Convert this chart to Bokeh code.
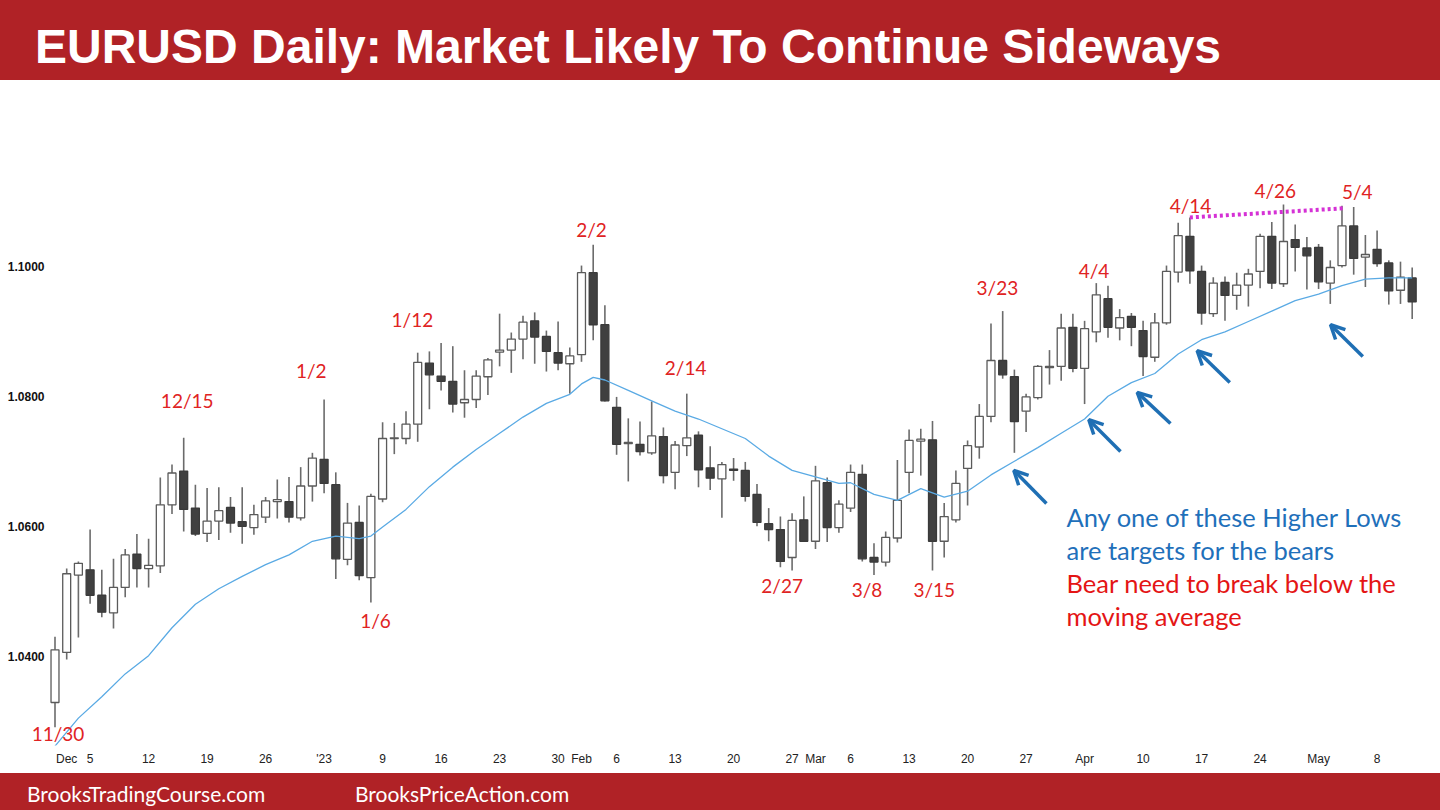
import pandas as pd
from bokeh.plotting import figure
from bokeh.models import (Range1d, FixedTicker, NumeralTickFormatter, ColumnDataSource,
                          Arrow, OpenHead, Div, LabelSet)
from bokeh.layouts import column
from bokeh.embed import file_html
from bokeh.resources import INLINE
from bokeh.core.properties import value

# ---------------- data ----------------
dates = [d.strftime("%m/%d") for d in pd.bdate_range("2022-11-30", "2023-05-11")]

opens = [1.0329, 1.0406, 1.0525, 1.0533, 1.0494, 1.0467, 1.0506, 1.0557, 1.0535, 1.0539,
         1.0633, 1.0685, 1.0628, 1.0589, 1.0608, 1.0629, 1.0607, 1.0598, 1.0614, 1.0638,
         1.0638, 1.0613, 1.0662, 1.0703, 1.0664, 1.0549, 1.0606, 1.0521, 1.0642, 1.0735,
         1.0735, 1.0757, 1.0851, 1.0831, 1.0823, 1.0790, 1.0795, 1.0830, 1.0868, 1.0871,
         1.0888, 1.0916, 1.0892, 1.0867, 1.0850, 1.0864, 1.0990, 1.0910, 1.0783, 1.0727,
         1.0726, 1.0713, 1.0738, 1.0683, 1.0724, 1.0740, 1.0690, 1.0673, 1.0688, 1.0686,
         1.0649, 1.0604, 1.0595, 1.0552, 1.0610, 1.0577, 1.0667, 1.0598, 1.0628, 1.0680,
         1.0552, 1.0545, 1.0582, 1.0683, 1.0731, 1.0733, 1.0577, 1.0610, 1.0689, 1.0722,
         1.0769, 1.0855, 1.0830, 1.0777, 1.0798, 1.0844, 1.0846, 1.0906, 1.0843, 1.0899,
         1.0950, 1.0905, 1.0923, 1.0901, 1.0860, 1.0913, 1.0991, 1.1046, 1.0992, 1.0927,
         1.0975, 1.0955, 1.0971, 1.0992, 1.1046, 1.0973, 1.1041, 1.1028, 1.1029, 1.0974,
         1.1001, 1.1062, 1.1014, 1.1026, 1.1005, 1.0963, 1.0982]
highs = [1.0430, 1.0535, 1.0546, 1.0595, 1.0533, 1.0550, 1.0565, 1.0588, 1.0581, 1.0675,
         1.0695, 1.0736, 1.0664, 1.0659, 1.0660, 1.0645, 1.0660, 1.0633, 1.0645, 1.0672,
         1.0676, 1.0691, 1.0713, 1.0795, 1.0683, 1.0636, 1.0632, 1.0650, 1.0760, 1.0759,
         1.0777, 1.0867, 1.0869, 1.0882, 1.0877, 1.0840, 1.0840, 1.0859, 1.0927, 1.0898,
         1.0924, 1.0929, 1.0901, 1.0915, 1.0875, 1.1001, 1.1033, 1.0940, 1.0799, 1.0766,
         1.0761, 1.0792, 1.0752, 1.0731, 1.0804, 1.0746, 1.0723, 1.0699, 1.0705, 1.0699,
         1.0665, 1.0628, 1.0615, 1.0620, 1.0646, 1.0693, 1.0675, 1.0640, 1.0695, 1.0695,
         1.0574, 1.0592, 1.0702, 1.0749, 1.0750, 1.0762, 1.0636, 1.0686, 1.0732, 1.0788,
         1.0912, 1.0931, 1.0841, 1.0804, 1.0848, 1.0871, 1.0927, 1.0927, 1.0916, 1.0974,
         1.0970, 1.0934, 1.0928, 1.0916, 1.0928, 1.1001, 1.1067, 1.1075, 1.1001, 1.0983,
         1.0984, 1.0990, 1.0996, 1.1050, 1.1068, 1.1095, 1.1064, 1.1045, 1.1034, 1.1009,
         1.1093, 1.1091, 1.1048, 1.1055, 1.1009, 1.1007, 1.0998]
lows = [1.0291, 1.0395, 1.0429, 1.0481, 1.0460, 1.0443, 1.0491, 1.0506, 1.0506, 1.0528,
        1.0619, 1.0592, 1.0585, 1.0576, 1.0579, 1.0590, 1.0573, 1.0587, 1.0605, 1.0612,
        1.0606, 1.0609, 1.0638, 1.0651, 1.0519, 1.0540, 1.0517, 1.0483, 1.0637, 1.0711,
        1.0726, 1.0730, 1.0780, 1.0809, 1.0775, 1.0767, 1.0782, 1.0802, 1.0846, 1.0836,
        1.0857, 1.0850, 1.0838, 1.0840, 1.0804, 1.0853, 1.0886, 1.0792, 1.0710, 1.0669,
        1.0709, 1.0710, 1.0666, 1.0657, 1.0708, 1.0660, 1.0656, 1.0613, 1.0670, 1.0638,
        1.0600, 1.0577, 1.0537, 1.0532, 1.0576, 1.0565, 1.0576, 1.0590, 1.0622, 1.0546,
        1.0525, 1.0538, 1.0575, 1.0651, 1.0678, 1.0532, 1.0552, 1.0606, 1.0632, 1.0704,
        1.0760, 1.0827, 1.0713, 1.0745, 1.0795, 1.0818, 1.0824, 1.0837, 1.0788, 1.0883,
        1.0890, 1.0886, 1.0877, 1.0831, 1.0853, 1.0910, 1.0975, 1.0973, 1.0910, 1.0922,
        1.0916, 1.0933, 1.0938, 1.0966, 1.0965, 1.0968, 1.0992, 1.0964, 1.0965, 1.0942,
        1.0998, 1.0987, 1.0968, 1.0999, 1.0941, 1.0942, 1.0919]
closes = [1.0410, 1.0527, 1.0543, 1.0494, 1.0468, 1.0506, 1.0556, 1.0535, 1.0540, 1.0633,
          1.0682, 1.0626, 1.0588, 1.0608, 1.0624, 1.0605, 1.0600, 1.0618, 1.0639, 1.0641,
          1.0614, 1.0662, 1.0705, 1.0666, 1.0550, 1.0605, 1.0524, 1.0646, 1.0735, 1.0736,
          1.0757, 1.0852, 1.0833, 1.0823, 1.0788, 1.0795, 1.0831, 1.0856, 1.0871, 1.0888,
          1.0914, 1.0891, 1.0869, 1.0851, 1.0862, 1.0990, 1.0910, 1.0793, 1.0726, 1.0729,
          1.0715, 1.0739, 1.0678, 1.0725, 1.0736, 1.0687, 1.0674, 1.0695, 1.0686, 1.0646,
          1.0606, 1.0595, 1.0546, 1.0609, 1.0577, 1.0670, 1.0598, 1.0634, 1.0683, 1.0550,
          1.0545, 1.0583, 1.0640, 1.0732, 1.0734, 1.0577, 1.0615, 1.0666, 1.0724, 1.0769,
          1.0855, 1.0833, 1.0761, 1.0799, 1.0846, 1.0846, 1.0905, 1.0843, 1.0904, 1.0956,
          1.0906, 1.0921, 1.0906, 1.0861, 1.0913, 1.0992, 1.1047, 1.0993, 1.0928, 1.0974,
          1.0955, 1.0971, 1.0988, 1.1046, 1.0974, 1.1038, 1.1029, 1.1016, 1.0976, 1.0998,
          1.1062, 1.1012, 1.1018, 1.1004, 1.0962, 1.0983, 1.0945]

# moving average (bar index, value)
ma_idx = [0, 2, 4, 6, 8, 10, 12, 14, 16, 18, 20, 22, 24, 26, 27, 28, 30, 32, 34, 36, 38, 40,
          42, 44, 45, 46, 47, 49, 51, 53, 55, 57, 59, 61, 63, 65, 67, 68, 70, 72, 74, 76, 78,
          80, 82, 84, 86, 88, 90, 92, 94, 96, 98, 100, 102, 104, 106, 108, 110, 112, 114, 116]
ma_val = [1.0262, 1.0305, 1.0338, 1.0373, 1.0401, 1.0444, 1.0480, 1.0504, 1.0523, 1.0541,
          1.0556, 1.0577, 1.0585, 1.0581, 1.0585, 1.0599, 1.0626, 1.0661, 1.0691, 1.0718,
          1.0743, 1.0768, 1.0789, 1.0803, 1.0819, 1.0829, 1.0825, 1.0809, 1.0793, 1.0777,
          1.0765, 1.0750, 1.0735, 1.0708, 1.0686, 1.0676, 1.0666, 1.0667, 1.0649, 1.0640,
          1.0658, 1.0645, 1.0654, 1.0679, 1.0700, 1.0721, 1.0743, 1.0765, 1.0800, 1.0821,
          1.0835, 1.0865, 1.0887, 1.0899, 1.0915, 1.0931, 1.0947, 1.0957, 1.0970, 1.0980,
          1.0982, 1.0982]

tick_idx = [1, 3, 8, 13, 18, 23, 28, 33, 38, 43, 45, 48, 53, 58, 63, 65, 68, 73, 78, 83,
            88, 93, 98, 103, 108, 113]
tick_labels = ["Dec", "5", "12", "19", "26", "'23", "9", "16", "23", "30", "Feb", "6", "13",
               "20", "27", "Mar", "6", "13", "20", "27", "Apr", "10", "17", "24", "May", "8"]
y_ticks = [1.04, 1.06, 1.08, 1.10]

swing_labels = ["11/30", "12/15", "1/2", "1/12", "1/6", "2/2", "2/14", "2/27", "3/8", "3/15",
                "3/23", "4/4", "4/14", "4/26", "5/4"]
swing_x = [0.26, 11.3, 21.9, 30.55, 27.4, 45.85, 53.9, 62.15, 69.4, 75.15, 80.55, 88.8,
           97.05, 104.3, 111.3]
swing_y = [1.0281, 1.0793, 1.0840, 1.0918, 1.0455, 1.1056, 1.0844, 1.0509, 1.0503, 1.0503,
           1.0968, 1.0994, 1.1093, 1.1116, 1.1115]

# higher-low arrows: tail (x0,y0) -> head (x1,y1)
arr_x0 = [84.74, 91.07, 95.34, 100.41, 111.78]
arr_y0 = [1.0635, 1.0715, 1.0758, 1.0821, 1.0861]
arr_x1 = [81.95, 88.36, 92.50, 97.62, 109.02]
arr_y1 = [1.0686, 1.0764, 1.0806, 1.0870, 1.0910]

# resistance line between the 4/14 and 5/3-5/4 highs
res_x = [97, 110.1]
res_y = [1.1075, 1.1089]

RED_BAND = "#B02226"
LABEL_RED = "#DF2323"
BLUE_TXT = "#1F70BA"

# ---------------- figure ----------------
# frame starts 30px from the left; y labels are pulled back over it with a negative standoff
p = figure(width=1440, height=693, output_backend="svg", toolbar_location=None,
           x_range=Range1d(-2.094, 118.42), y_range=Range1d(1.02629, 1.12856),
           min_border_left=30, min_border_right=0, min_border_top=0, min_border_bottom=28)
p.outline_line_color = None
p.xgrid.visible = False
p.ygrid.visible = False
p.background_fill_color = "white"
p.border_fill_color = "white"

for ax in (p.xaxis[0], p.yaxis[0]):
    ax.axis_line_color = None
    ax.major_tick_line_color = None
    ax.minor_tick_line_color = None
    ax.major_tick_out = 0
    ax.minor_tick_out = 0
    ax.major_tick_in = 0

p.yaxis.ticker = FixedTicker(ticks=y_ticks)
p.yaxis.formatter = NumeralTickFormatter(format="0.0000")
p.yaxis.major_label_text_font = "Liberation Sans"
p.yaxis.major_label_text_font_size = "12px"
p.yaxis.major_label_text_font_style = "bold"
p.yaxis.major_label_text_color = "#111111"
p.yaxis.major_label_standoff = -14

p.xaxis.ticker = FixedTicker(ticks=tick_idx)
p.xaxis.major_label_overrides = {i: t for i, t in zip(tick_idx, tick_labels)}
p.xaxis.major_label_text_font = "Liberation Sans"
p.xaxis.major_label_text_font_size = "12px"
p.xaxis.major_label_text_color = "#222222"
p.xaxis.major_label_standoff = 6

# candles
n = len(opens)
idx = list(range(n))
up = [c >= o for o, c in zip(opens, closes)]
src = ColumnDataSource(dict(
    x=idx, date=dates[:n], high=highs, low=lows,
    top=[max(o, c) for o, c in zip(opens, closes)],
    bottom=[min(o, c) for o, c in zip(opens, closes)],
    fill=["white" if u else "#404040" for u in up],
    line=["#5a5a5a" if u else "#3a3a3a" for u in up],
))
p.segment(x0="x", y0="high", x1="x", y1="low", line_color="#6b6b6b", line_width=1.6, source=src)
p.vbar(x="x", width=0.68, top="top", bottom="bottom", fill_color="fill", line_color="line",
       line_width=1.3, source=src)

# moving average
p.line(ma_idx, ma_val, line_color="#5AAAE4", line_width=1.3)

# resistance dotted line
p.line(res_x, res_y, line_color="#D531D5", line_width=4, line_dash="3 3")

# arrows
asrc = ColumnDataSource(dict(x0=arr_x0, y0=arr_y0, x1=arr_x1, y1=arr_y1))
p.add_layout(Arrow(end=OpenHead(size=14, line_color="#1F6FB4", line_width=3.5),
                   x_start="x0", y_start="y0", x_end="x1", y_end="y1",
                   line_color="#1F6FB4", line_width=3.5, source=asrc))

# swing labels
lsrc = ColumnDataSource(dict(x=swing_x, y=swing_y, text=swing_labels))
p.add_layout(LabelSet(x="x", y="y", text="text", source=lsrc, text_align="center",
                      text_baseline="middle", text_font=value("Lato"),
                      text_font_size="19px", text_color=LABEL_RED))

# commentary
p.text(x=[86.45, 86.45], y=[1.0615, 1.0564],
       text=["Any one of these Higher Lows", "are targets for the bears"],
       text_align="left", text_baseline="middle", text_font=value("Lato"),
       text_font_size="25.5px", text_color=BLUE_TXT)
p.text(x=[86.45, 86.45], y=[1.0513, 1.0462],
       text=["Bear need to break below the", "moving average"],
       text_align="left", text_baseline="middle", text_font=value("Lato"),
       text_font_size="25.5px", text_color="#E41515")

# ---------------- bands ----------------
title_div = Div(
    text=('<div style="position:relative;width:1440px;height:80px;background:%s;overflow:hidden;">'
          '<span style="position:absolute;left:35px;top:23px;line-height:1;white-space:nowrap;'
          'font-family:\'Liberation Sans\',Arial,sans-serif;font-weight:bold;font-size:48px;'
          'color:#ffffff;">EURUSD Daily: Market Likely To Continue Sideways</span></div>') % RED_BAND,
    width=1440, height=80, margin=0)

footer_div = Div(
    text=('<div style="position:relative;width:1440px;height:37px;background:%s;overflow:hidden;">'
          '<span style="position:absolute;left:27px;top:10px;line-height:1;white-space:nowrap;'
          'font-family:Lato,sans-serif;font-size:21px;color:#ffffff;">BrooksTradingCourse.com</span>'
          '<span style="position:absolute;left:355px;top:10px;line-height:1;white-space:nowrap;'
          'font-family:Lato,sans-serif;font-size:21px;color:#ffffff;">BrooksPriceAction.com</span>'
          '</div>') % RED_BAND,
    width=1440, height=37, margin=0)

layout = column(title_div, p, footer_div, spacing=0)

open("out.html", "w").write(file_html(layout, INLINE))
